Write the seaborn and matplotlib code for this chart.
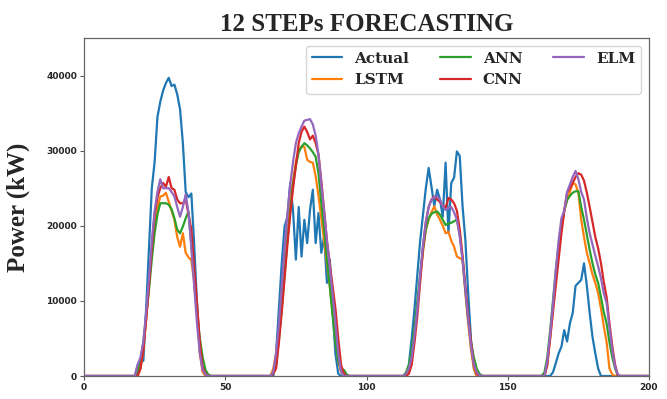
import numpy as np
import pandas as pd
import matplotlib
matplotlib.use("Agg")
import matplotlib.pyplot as plt
import seaborn as sns

# ---- data ----
x_max = 200
hump_starts = [18, 66, 113, 162]

actual_h1 = [0, 1500, 2200, 2000, 9000, 17000, 25000, 28500, 34500, 36500, 38000, 39000, 39700, 38600,
             38800, 37500, 35500, 31000, 24500, 23800, 24300, 17500, 9700, 3500, 800, 0]
actual_h2 = [0, 0, 3000, 9000, 15000, 19900, 21200, 25700, 22000, 15500, 22500, 15900, 20800, 17700,
             22100, 24800, 17700, 21700, 16400, 18600, 12400, 15500, 8800, 3000, 300, 0]
actual_h3 = [0, 0, 1500, 5000, 9000, 13500, 18000, 21500, 25000, 27700, 25200, 22600, 24800, 23500,
             21200, 28400, 19000, 25700, 26400, 29900, 29300, 22600, 18100, 11000, 4800, 1000, 0]
actual_h4 = [0, 0, 0, 0, 500, 1700, 3000, 3900, 6100, 4600, 7000, 8400, 12000, 12400, 12800, 15000,
             12000, 8400, 5200, 3000, 1000, 0]

lstm_h1 = [0, 0, 1000, 3500, 7500, 12000, 16500, 20500, 22500, 23900, 24000, 24400, 23200, 22000,
           20800, 18500, 17200, 19000, 16400, 15800, 15400, 12500, 8500, 3000, 500, 0]
lstm_h2 = [0, 1000, 3000, 6000, 10000, 14500, 19000, 23000, 26000, 28500, 30000, 30600, 30500, 28800,
           28500, 28400, 26600, 24000, 21000, 18000, 15000, 12000, 8500, 5000, 2000, 500, 0]
lstm_h3 = [0, 0, 500, 2500, 5500, 9000, 13000, 16500, 19500, 20800, 21800, 22600, 21500, 20800,
           20000, 19000, 19200, 18000, 17200, 15900, 15700, 15500, 11000, 7000, 3500, 1000, 0]
lstm_h4 = [0, 0, 1500, 5000, 9000, 13000, 16500, 19500, 22000, 23500, 24500, 25700, 25500, 24400,
           20800, 18500, 16400, 15000, 13500, 12400, 11000, 9000, 6600, 4500, 1000, 200, 0]

ann_h1 = [0, 500, 2000, 4500, 8000, 11500, 15500, 19000, 21500, 23000, 23000, 23000, 22800, 22200,
          21000, 19500, 19000, 19900, 21000, 21900, 17500, 13000, 8500, 5000, 2500, 800, 200, 0]
ann_h2 = [0, 500, 1500, 5000, 9000, 13500, 18000, 22000, 25500, 28000, 29800, 30500, 31000, 30700,
          30300, 29800, 29200, 27000, 23000, 19500, 15500, 12000, 8000, 4500, 2000, 1000, 800, 200, 0]
ann_h3 = [0, 500, 1500, 3500, 6500, 10000, 13500, 17000, 19500, 21000, 21600, 21800, 21900, 21500,
          20800, 20100, 20300, 20400, 20600, 20800, 19000, 15500, 11500, 7500, 4500, 2500, 1000, 300, 0]
ann_h4 = [0, 500, 2500, 6000, 10000, 14000, 17500, 20000, 22000, 23400, 24000, 24400, 24600, 24600,
          22500, 20800, 18800, 16800, 15000, 13500, 12400, 10500, 8500, 7000, 4500, 2500, 1000, 0]

cnn_h1 = [0, 0, 1000, 3500, 7500, 12000, 17000, 21500, 23800, 25000, 25700, 25200, 26500, 25000,
          24800, 23500, 23000, 23000, 23500, 21500, 19500, 14500, 9700, 4500, 1200, 300, 0]
cnn_h2 = [0, 300, 1000, 4500, 8500, 13000, 17500, 21500, 25000, 28000, 31000, 32500, 33200, 32500,
          31500, 32000, 31000, 29500, 26000, 22000, 18000, 15000, 12000, 9000, 5000, 1500, 300, 0]
cnn_h3 = [0, 0, 300, 1500, 4500, 8000, 12500, 17000, 20500, 22500, 23500, 23900, 23500, 23200,
          22700, 22400, 23700, 23500, 23000, 22000, 19500, 16000, 12000, 8000, 4500, 1500, 300, 0]
cnn_h4 = [0, 0, 1500, 5000, 8500, 12000, 15500, 19000, 22000, 24400, 25000, 25700, 26500, 27000,
          26800, 26000, 24400, 22500, 20500, 18500, 17000, 15000, 12500, 10500, 7000, 4000, 1500, 0]

elm_h1 = [0, 1500, 2500, 4500, 8500, 13000, 18000, 22000, 24500, 26200, 25000, 25000, 25000, 24500,
          23900, 22500, 21200, 22500, 24200, 21700, 17000, 12000, 7000, 3000, 800, 200, 0]
elm_h2 = [0, 500, 3000, 7000, 12000, 17000, 21500, 25500, 28500, 31000, 32300, 33200, 34000, 34100,
          34200, 33500, 32000, 29500, 25500, 22000, 18000, 14500, 11000, 7000, 3000, 600, 0]
elm_h3 = [0, 300, 1000, 2500, 5500, 9000, 13500, 17500, 20500, 22500, 23500, 23800, 23900, 23500,
          22600, 22100, 22400, 22500, 21800, 20800, 18500, 15500, 11500, 7500, 4000, 1500, 500, 100, 0]
elm_h4 = [0, 0, 2000, 5500, 9500, 14000, 18000, 21000, 22000, 24500, 25500, 26500, 27300, 26200,
          24500, 23500, 21000, 19000, 17500, 16000, 14600, 13000, 11000, 9700, 6500, 3500, 1200, 200, 0]

series_names = ["Actual", "LSTM", "ANN", "CNN", "ELM"]
series_humps = {
    "Actual": [actual_h1, actual_h2, actual_h3, actual_h4],
    "LSTM": [lstm_h1, lstm_h2, lstm_h3, lstm_h4],
    "ANN": [ann_h1, ann_h2, ann_h3, ann_h4],
    "CNN": [cnn_h1, cnn_h2, cnn_h3, cnn_h4],
    "ELM": [elm_h1, elm_h2, elm_h3, elm_h4],
}

x = np.arange(x_max + 1)
frames = []
for name in series_names:
    y = np.zeros(len(x))
    for start, vals in zip(hump_starts, series_humps[name]):
        y[start:start + len(vals)] = vals
    frames.append(pd.DataFrame({"x": x, "power": y, "model": name}))
df = pd.concat(frames, ignore_index=True)

# ---- plot ----
sns.set_style("ticks")
fig = plt.figure(figsize=(6.67, 3.99), dpi=100)
ax = fig.add_axes([84 / 667, 1 - 376 / 399, (649 - 84) / 667, (376 - 38) / 399])

palette = sns.color_palette("tab10", 5)
sns.lineplot(data=df, x="x", y="power", hue="model", hue_order=series_names,
             palette=palette, estimator=None, linewidth=1.6, ax=ax)

ax.set_xlim(0, 200)
ax.set_ylim(0, 45000)
ax.set_xticks([0, 50, 100, 150, 200])
ax.set_yticks([0, 10000, 20000, 30000, 40000])
ax.tick_params(labelsize=6.5, length=3, width=0.8, color="0.35", pad=2)
for lab in ax.get_xticklabels() + ax.get_yticklabels():
    lab.set_fontweight("bold")
for sp in ax.spines.values():
    sp.set_visible(True)
    sp.set_color("0.4")
    sp.set_linewidth(0.9)

ax.set_xlabel("")
ax.set_ylabel("Power (kW)", fontsize=18, fontweight="bold", family="Liberation Serif")
ax.yaxis.set_label_coords(-0.095, 0.5)
ax.set_title("12 STEPs FORECASTING", fontsize=18, fontweight="bold",
             family="Liberation Serif", pad=5)

leg = ax.legend(loc="upper right", ncol=3,
                prop={"family": "DejaVu Serif", "weight": "bold", "size": 11})
for line in leg.get_lines():
    line.set_linewidth(1.6)

fig.savefig("out.png", dpi=100)
